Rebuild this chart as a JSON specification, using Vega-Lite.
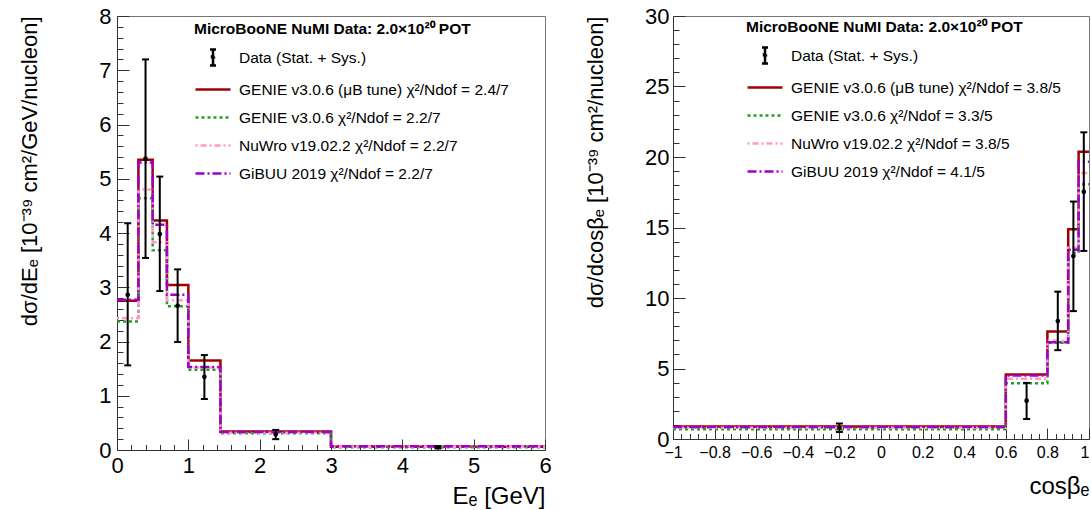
{
  "$schema": "https://vega.github.io/schema/vega-lite/v6.json",
  "background": "white",
  "padding": {"left": 18, "top": 4, "right": 0, "bottom": 0},
  "spacing": 32,
  "config": {
    "font": "Liberation Sans",
    "view": {"stroke": "#777", "strokeWidth": 1},
    "axis": {"grid": false, "domainColor": "#333", "tickColor": "#333", "labelColor": "black", "titleColor": "black", "labelFont": "Liberation Sans", "titleFont": "Liberation Sans", "titleFontWeight": "normal", "tickWidth": 1, "domainWidth": 1, "labelOverlap": false, "labelBound": false, "labelFlush": false},
    "legend": {"orient": "none", "padding": 0, "symbolType": "stroke", "symbolSize": 1225, "symbolStrokeWidth": 2.5, "rowPadding": 0, "labelOffset": 7, "labelFontSize": 15.5, "labelFont": "Liberation Sans", "labelColor": "black", "labelLimit": 0, "titleFontSize": 15.5, "titleFont": "Liberation Sans", "titleFontWeight": "bold", "titleColor": "black", "titlePadding": 1, "titleLimit": 0, "direction": "vertical"}
  },
  "datasets": {
    "histE": [
      {"model": "GENIE v3.0.6 (μB tune) χ²/Ndof = 2.4/7", "bin": 1, "lo": 0, "hi": 0.3, "v": 2.75},
      {"model": "GENIE v3.0.6 (μB tune) χ²/Ndof = 2.4/7", "bin": 2, "lo": 0.3, "hi": 0.5, "v": 5.35},
      {"model": "GENIE v3.0.6 (μB tune) χ²/Ndof = 2.4/7", "bin": 3, "lo": 0.5, "hi": 0.7, "v": 4.23},
      {"model": "GENIE v3.0.6 (μB tune) χ²/Ndof = 2.4/7", "bin": 4, "lo": 0.7, "hi": 1.0, "v": 3.04},
      {"model": "GENIE v3.0.6 (μB tune) χ²/Ndof = 2.4/7", "bin": 5, "lo": 1.0, "hi": 1.45, "v": 1.65},
      {"model": "GENIE v3.0.6 (μB tune) χ²/Ndof = 2.4/7", "bin": 6, "lo": 1.45, "hi": 3.0, "v": 0.34},
      {"model": "GENIE v3.0.6 (μB tune) χ²/Ndof = 2.4/7", "bin": 7, "lo": 3.0, "hi": 6.0, "v": 0.06},
      {"model": "GENIE v3.0.6 χ²/Ndof = 2.2/7", "bin": 1, "lo": 0, "hi": 0.3, "v": 2.37},
      {"model": "GENIE v3.0.6 χ²/Ndof = 2.2/7", "bin": 2, "lo": 0.3, "hi": 0.5, "v": 4.64},
      {"model": "GENIE v3.0.6 χ²/Ndof = 2.2/7", "bin": 3, "lo": 0.5, "hi": 0.7, "v": 3.68},
      {"model": "GENIE v3.0.6 χ²/Ndof = 2.2/7", "bin": 4, "lo": 0.7, "hi": 1.0, "v": 2.65},
      {"model": "GENIE v3.0.6 χ²/Ndof = 2.2/7", "bin": 5, "lo": 1.0, "hi": 1.45, "v": 1.48},
      {"model": "GENIE v3.0.6 χ²/Ndof = 2.2/7", "bin": 6, "lo": 1.45, "hi": 3.0, "v": 0.31},
      {"model": "GENIE v3.0.6 χ²/Ndof = 2.2/7", "bin": 7, "lo": 3.0, "hi": 6.0, "v": 0.05},
      {"model": "NuWro v19.02.2 χ²/Ndof = 2.2/7", "bin": 1, "lo": 0, "hi": 0.3, "v": 2.43},
      {"model": "NuWro v19.02.2 χ²/Ndof = 2.2/7", "bin": 2, "lo": 0.3, "hi": 0.5, "v": 4.8},
      {"model": "NuWro v19.02.2 χ²/Ndof = 2.2/7", "bin": 3, "lo": 0.5, "hi": 0.7, "v": 3.83},
      {"model": "NuWro v19.02.2 χ²/Ndof = 2.2/7", "bin": 4, "lo": 0.7, "hi": 1.0, "v": 2.76},
      {"model": "NuWro v19.02.2 χ²/Ndof = 2.2/7", "bin": 5, "lo": 1.0, "hi": 1.45, "v": 1.52},
      {"model": "NuWro v19.02.2 χ²/Ndof = 2.2/7", "bin": 6, "lo": 1.45, "hi": 3.0, "v": 0.32},
      {"model": "NuWro v19.02.2 χ²/Ndof = 2.2/7", "bin": 7, "lo": 3.0, "hi": 6.0, "v": 0.06},
      {"model": "GiBUU 2019 χ²/Ndof = 2.2/7", "bin": 1, "lo": 0, "hi": 0.3, "v": 2.77},
      {"model": "GiBUU 2019 χ²/Ndof = 2.2/7", "bin": 2, "lo": 0.3, "hi": 0.5, "v": 5.3},
      {"model": "GiBUU 2019 χ²/Ndof = 2.2/7", "bin": 3, "lo": 0.5, "hi": 0.7, "v": 4.15},
      {"model": "GiBUU 2019 χ²/Ndof = 2.2/7", "bin": 4, "lo": 0.7, "hi": 1.0, "v": 2.86},
      {"model": "GiBUU 2019 χ²/Ndof = 2.2/7", "bin": 5, "lo": 1.0, "hi": 1.45, "v": 1.53},
      {"model": "GiBUU 2019 χ²/Ndof = 2.2/7", "bin": 6, "lo": 1.45, "hi": 3.0, "v": 0.33},
      {"model": "GiBUU 2019 χ²/Ndof = 2.2/7", "bin": 7, "lo": 3.0, "hi": 6.0, "v": 0.07}
    ],
    "dataE": [
      {"model": "Data (Stat. + Sys.)", "x": 0.15, "y": 2.86, "lo": 1.56, "hi": 4.18},
      {"model": "Data (Stat. + Sys.)", "x": 0.4, "y": 5.37, "lo": 3.54, "hi": 7.2},
      {"model": "Data (Stat. + Sys.)", "x": 0.6, "y": 3.98, "lo": 2.93, "hi": 5.04},
      {"model": "Data (Stat. + Sys.)", "x": 0.85, "y": 2.66, "lo": 1.99, "hi": 3.33},
      {"model": "Data (Stat. + Sys.)", "x": 1.225, "y": 1.35, "lo": 0.94, "hi": 1.75},
      {"model": "Data (Stat. + Sys.)", "x": 2.225, "y": 0.29, "lo": 0.2, "hi": 0.37},
      {"model": "Data (Stat. + Sys.)", "x": 4.5, "y": 0.05, "lo": 0.03, "hi": 0.07}
    ],
    "histC": [
      {"model": "GENIE v3.0.6 (μB tune) χ²/Ndof = 3.8/5", "bin": 1, "lo": -1, "hi": 0.6, "v": 0.88},
      {"model": "GENIE v3.0.6 (μB tune) χ²/Ndof = 3.8/5", "bin": 2, "lo": 0.6, "hi": 0.8, "v": 4.58},
      {"model": "GENIE v3.0.6 (μB tune) χ²/Ndof = 3.8/5", "bin": 3, "lo": 0.8, "hi": 0.9, "v": 7.62},
      {"model": "GENIE v3.0.6 (μB tune) χ²/Ndof = 3.8/5", "bin": 4, "lo": 0.9, "hi": 0.95, "v": 14.88},
      {"model": "GENIE v3.0.6 (μB tune) χ²/Ndof = 3.8/5", "bin": 5, "lo": 0.95, "hi": 1.0, "v": 20.37},
      {"model": "GENIE v3.0.6 χ²/Ndof = 3.3/5", "bin": 1, "lo": -1, "hi": 0.6, "v": 0.7},
      {"model": "GENIE v3.0.6 χ²/Ndof = 3.3/5", "bin": 2, "lo": 0.6, "hi": 0.8, "v": 3.96},
      {"model": "GENIE v3.0.6 χ²/Ndof = 3.3/5", "bin": 3, "lo": 0.8, "hi": 0.9, "v": 6.82},
      {"model": "GENIE v3.0.6 χ²/Ndof = 3.3/5", "bin": 4, "lo": 0.9, "hi": 0.95, "v": 13.2},
      {"model": "GENIE v3.0.6 χ²/Ndof = 3.3/5", "bin": 5, "lo": 0.95, "hi": 1.0, "v": 18.07},
      {"model": "NuWro v19.02.2 χ²/Ndof = 3.8/5", "bin": 1, "lo": -1, "hi": 0.6, "v": 0.8},
      {"model": "NuWro v19.02.2 χ²/Ndof = 3.8/5", "bin": 2, "lo": 0.6, "hi": 0.8, "v": 4.27},
      {"model": "NuWro v19.02.2 χ²/Ndof = 3.8/5", "bin": 3, "lo": 0.8, "hi": 0.9, "v": 6.99},
      {"model": "NuWro v19.02.2 χ²/Ndof = 3.8/5", "bin": 4, "lo": 0.9, "hi": 0.95, "v": 13.57},
      {"model": "NuWro v19.02.2 χ²/Ndof = 3.8/5", "bin": 5, "lo": 0.95, "hi": 1.0, "v": 18.86},
      {"model": "GiBUU 2019 χ²/Ndof = 4.1/5", "bin": 1, "lo": -1, "hi": 0.6, "v": 0.85},
      {"model": "GiBUU 2019 χ²/Ndof = 4.1/5", "bin": 2, "lo": 0.6, "hi": 0.8, "v": 4.5},
      {"model": "GiBUU 2019 χ²/Ndof = 4.1/5", "bin": 3, "lo": 0.8, "hi": 0.9, "v": 6.87},
      {"model": "GiBUU 2019 χ²/Ndof = 4.1/5", "bin": 4, "lo": 0.9, "hi": 0.95, "v": 13.42},
      {"model": "GiBUU 2019 χ²/Ndof = 4.1/5", "bin": 5, "lo": 0.95, "hi": 1.0, "v": 19.66}
    ],
    "dataC": [
      {"model": "Data (Stat. + Sys.)", "x": -0.2, "y": 0.8, "lo": 0.5, "hi": 1.1},
      {"model": "Data (Stat. + Sys.)", "x": 0.7, "y": 2.72, "lo": 1.42, "hi": 3.98},
      {"model": "Data (Stat. + Sys.)", "x": 0.85, "y": 8.36, "lo": 6.3, "hi": 10.45},
      {"model": "Data (Stat. + Sys.)", "x": 0.925, "y": 12.98, "lo": 9.07, "hi": 16.84},
      {"model": "Data (Stat. + Sys.)", "x": 0.975, "y": 17.53, "lo": 13.34, "hi": 21.75}
    ]
  },
  "hconcat": [
    {
      "width": 428,
      "height": 434,
      "layer": [
        {
          "data": {"name": "histE"},
          "transform": [{"fold": ["lo", "hi"], "as": ["side", "x"]}],
          "mark": {"type": "line", "strokeWidth": 2.5, "strokeJoin": "miter", "strokeCap": "butt"},
          "encoding": {
            "x": {"field": "x", "type": "quantitative", "title": "Eₑ [GeV]", "scale": {"domain": [0, 6], "nice": false, "zero": false},
              "axis": {"values": [0,0.2,0.4,0.6,0.8,1,1.2,1.4,1.6,1.8,2,2.2,2.4,2.6,2.8,3,3.2,3.4,3.6,3.8,4,4.2,4.4,4.6,4.8,5,5.2,5.4,5.6,5.8,6],
                "tickCount": 1000,
                "labelExpr": "abs(datum.value - round(datum.value)) < 0.001 ? format(datum.value, '~g') : ''",
                "tickSize": {"condition": {"test": "abs(datum.value - round(datum.value)) < 0.001", "value": -11}, "value": -5.5},
                "labelOverlap": false, "labelPadding": 16, "labelFontSize": 22, "titleFontSize": 24, "titleAnchor": "end", "titlePadding": 3}},
            "y": {"field": "v", "type": "quantitative", "title": "dσ/dEₑ [10⁻³⁹ cm²/GeV/nucleon]", "scale": {"domain": [0, 8], "nice": false},
              "axis": {"values": [0,0.2,0.4,0.6,0.8,1,1.2,1.4,1.6,1.8,2,2.2,2.4,2.6,2.8,3,3.2,3.4,3.6,3.8,4,4.2,4.4,4.6,4.8,5,5.2,5.4,5.6,5.8,6,6.2,6.4,6.6,6.8,7,7.2,7.4,7.6,7.8,8],
                "tickCount": 1000,
                "labelExpr": "abs(datum.value - round(datum.value)) < 0.001 ? format(datum.value, '~g') : ''",
                "tickSize": {"condition": {"test": "abs(datum.value - round(datum.value)) < 0.001", "value": -12}, "value": -6},
                "labelOverlap": false, "labelPadding": 18, "labelFontSize": 22, "titleFontSize": 22, "titleAnchor": "end", "titlePadding": 57}},
            "color": {"field": "model", "type": "nominal",
              "scale": {"domain": ["Data (Stat. + Sys.)", "GENIE v3.0.6 (μB tune) χ²/Ndof = 2.4/7", "GENIE v3.0.6 χ²/Ndof = 2.2/7", "NuWro v19.02.2 χ²/Ndof = 2.2/7", "GiBUU 2019 χ²/Ndof = 2.2/7"],
                "range": ["#000000", "#a00000", "#22a022", "#ff99cc", "#a000cc"]},
              "legend": {"title": "MicroBooNE NuMI Data: 2.0×10²⁰ POT", "legendX": 77, "legendY": 6,
                "encode": {"symbols": {"update": {
                  "shape": {"signal": "datum.value === 'Data (Stat. + Sys.)' ? 'M0,-0.8V0.8M-0.3,-0.8H0.3M-0.3,0.8H0.3M-0.1,-0.1H0.1V0.1H-0.1Z' : 'stroke'"},
                  "size": {"signal": "datum.value === 'Data (Stat. + Sys.)' ? 400 : 1225"}}}}}},
            "strokeDash": {"field": "model", "type": "nominal",
              "scale": {"domain": ["Data (Stat. + Sys.)", "GENIE v3.0.6 (μB tune) χ²/Ndof = 2.4/7", "GENIE v3.0.6 χ²/Ndof = 2.2/7", "NuWro v19.02.2 χ²/Ndof = 2.2/7", "GiBUU 2019 χ²/Ndof = 2.2/7"],
                "range": [[1, 0], [1, 0], [3, 3], [2, 3, 6, 3], [9, 3, 2, 3]]},
              "legend": {"title": "MicroBooNE NuMI Data: 2.0×10²⁰ POT", "legendX": 77, "legendY": 6,
                "encode": {"symbols": {"update": {
                  "shape": {"signal": "datum.value === 'Data (Stat. + Sys.)' ? 'M0,-0.8V0.8M-0.3,-0.8H0.3M-0.3,0.8H0.3M-0.1,-0.1H0.1V0.1H-0.1Z' : 'stroke'"},
                  "size": {"signal": "datum.value === 'Data (Stat. + Sys.)' ? 400 : 1225"}}}}}},
            "order": [{"field": "x", "type": "quantitative"}, {"field": "bin", "type": "quantitative"}]
          }
        },
        {
          "data": {"name": "dataE"},
          "mark": {"type": "rule", "strokeWidth": 2},
          "encoding": {
            "x": {"field": "x", "type": "quantitative", "title": "Eₑ [GeV]", "scale": {"domain": [0, 6], "nice": false, "zero": false}},
            "y": {"field": "lo", "type": "quantitative", "title": "dσ/dEₑ [10⁻³⁹ cm²/GeV/nucleon]", "scale": {"domain": [0, 8], "nice": false}},
            "y2": {"field": "hi"},
            "color": {"field": "model", "type": "nominal"},
            "strokeDash": {"field": "model", "type": "nominal"}
          }
        },
        {
          "data": {"name": "dataE"},
          "mark": {"type": "tick", "orient": "horizontal", "size": 7, "thickness": 2, "color": "black", "opacity": 1},
          "encoding": {
            "x": {"field": "x", "type": "quantitative", "title": "Eₑ [GeV]", "scale": {"domain": [0, 6], "nice": false, "zero": false}},
            "y": {"field": "lo", "type": "quantitative", "title": "dσ/dEₑ [10⁻³⁹ cm²/GeV/nucleon]", "scale": {"domain": [0, 8], "nice": false}}
          }
        },
        {
          "data": {"name": "dataE"},
          "mark": {"type": "tick", "orient": "horizontal", "size": 7, "thickness": 2, "color": "black", "opacity": 1},
          "encoding": {
            "x": {"field": "x", "type": "quantitative", "title": "Eₑ [GeV]", "scale": {"domain": [0, 6], "nice": false, "zero": false}},
            "y": {"field": "hi", "type": "quantitative", "title": "dσ/dEₑ [10⁻³⁹ cm²/GeV/nucleon]", "scale": {"domain": [0, 8], "nice": false}}
          }
        },
        {
          "data": {"name": "dataE"},
          "mark": {"type": "point", "filled": true, "size": 22, "color": "black", "opacity": 1},
          "encoding": {
            "x": {"field": "x", "type": "quantitative", "title": "Eₑ [GeV]", "scale": {"domain": [0, 6], "nice": false, "zero": false}},
            "y": {"field": "y", "type": "quantitative", "title": "dσ/dEₑ [10⁻³⁹ cm²/GeV/nucleon]", "scale": {"domain": [0, 8], "nice": false}}
          }
        }
      ]
    },
    {
      "width": 416,
      "height": 423,
      "layer": [
        {
          "data": {"name": "histC"},
          "transform": [{"fold": ["lo", "hi"], "as": ["side", "x"]}],
          "mark": {"type": "line", "strokeWidth": 2.5, "strokeJoin": "miter", "strokeCap": "butt"},
          "encoding": {
            "x": {"field": "x", "type": "quantitative", "title": "cosβₑ", "scale": {"domain": [-1, 1], "nice": false, "zero": false},
              "axis": {"values": [-1,-0.96,-0.92,-0.88,-0.84,-0.8,-0.76,-0.72,-0.68,-0.64,-0.6,-0.56,-0.52,-0.48,-0.44,-0.4,-0.36,-0.32,-0.28,-0.24,-0.2,-0.16,-0.12,-0.08,-0.04,0,0.04,0.08,0.12,0.16,0.2,0.24,0.28,0.32,0.36,0.4,0.44,0.48,0.52,0.56,0.6,0.64,0.68,0.72,0.76,0.8,0.84,0.88,0.92,0.96,1],
                "tickCount": 1000,
                "labelExpr": "abs(datum.value*5 - round(datum.value*5)) < 0.001 ? format(datum.value, '~g') : ''",
                "tickSize": {"condition": {"test": "abs(datum.value*5 - round(datum.value*5)) < 0.001", "value": -11}, "value": -5.5},
                "labelAlign": {"condition": {"test": "datum.value > 0.99", "value": "right"}, "value": "center"},
                "labelOverlap": false, "labelPadding": 16, "labelFontSize": 16, "titleFontSize": 24, "titleAnchor": "end", "titlePadding": 9}},
            "y": {"field": "v", "type": "quantitative", "title": "dσ/dcosβₑ [10⁻³⁹ cm²/nucleon]", "scale": {"domain": [0, 30], "nice": false},
              "axis": {"values": [0,1,2,3,4,5,6,7,8,9,10,11,12,13,14,15,16,17,18,19,20,21,22,23,24,25,26,27,28,29,30],
                "tickCount": 1000,
                "labelExpr": "datum.value % 5 === 0 ? format(datum.value, 'd') : ''",
                "tickSize": {"condition": {"test": "datum.value % 5 === 0", "value": -12}, "value": -6},
                "labelOverlap": false, "labelPadding": 16, "labelFontSize": 22, "titleFontSize": 22, "titleAnchor": "end", "titlePadding": 37}},
            "color": {"field": "model", "type": "nominal",
              "scale": {"domain": ["Data (Stat. + Sys.)", "GENIE v3.0.6 (μB tune) χ²/Ndof = 3.8/5", "GENIE v3.0.6 χ²/Ndof = 3.3/5", "NuWro v19.02.2 χ²/Ndof = 3.8/5", "GiBUU 2019 χ²/Ndof = 4.1/5"],
                "range": ["#000000", "#a00000", "#22a022", "#ff99cc", "#a000cc"]},
              "legend": {"title": "MicroBooNE NuMI Data: 2.0×10²⁰ POT", "legendX": 73, "legendY": 4,
                "encode": {"symbols": {"update": {
                  "shape": {"signal": "datum.value === 'Data (Stat. + Sys.)' ? 'M0,-0.8V0.8M-0.3,-0.8H0.3M-0.3,0.8H0.3M-0.1,-0.1H0.1V0.1H-0.1Z' : 'stroke'"},
                  "size": {"signal": "datum.value === 'Data (Stat. + Sys.)' ? 400 : 1225"}}}}}},
            "strokeDash": {"field": "model", "type": "nominal",
              "scale": {"domain": ["Data (Stat. + Sys.)", "GENIE v3.0.6 (μB tune) χ²/Ndof = 3.8/5", "GENIE v3.0.6 χ²/Ndof = 3.3/5", "NuWro v19.02.2 χ²/Ndof = 3.8/5", "GiBUU 2019 χ²/Ndof = 4.1/5"],
                "range": [[1, 0], [1, 0], [3, 3], [2, 3, 6, 3], [9, 3, 2, 3]]},
              "legend": {"title": "MicroBooNE NuMI Data: 2.0×10²⁰ POT", "legendX": 73, "legendY": 4,
                "encode": {"symbols": {"update": {
                  "shape": {"signal": "datum.value === 'Data (Stat. + Sys.)' ? 'M0,-0.8V0.8M-0.3,-0.8H0.3M-0.3,0.8H0.3M-0.1,-0.1H0.1V0.1H-0.1Z' : 'stroke'"},
                  "size": {"signal": "datum.value === 'Data (Stat. + Sys.)' ? 400 : 1225"}}}}}},
            "order": [{"field": "x", "type": "quantitative"}, {"field": "bin", "type": "quantitative"}]
          }
        },
        {
          "data": {"name": "dataC"},
          "mark": {"type": "rule", "strokeWidth": 2},
          "encoding": {
            "x": {"field": "x", "type": "quantitative", "title": "cosβₑ", "scale": {"domain": [-1, 1], "nice": false, "zero": false}},
            "y": {"field": "lo", "type": "quantitative", "title": "dσ/dcosβₑ [10⁻³⁹ cm²/nucleon]", "scale": {"domain": [0, 30], "nice": false}},
            "y2": {"field": "hi"},
            "color": {"field": "model", "type": "nominal"},
            "strokeDash": {"field": "model", "type": "nominal"}
          }
        },
        {
          "data": {"name": "dataC"},
          "mark": {"type": "tick", "orient": "horizontal", "size": 7, "thickness": 2, "color": "black", "opacity": 1},
          "encoding": {
            "x": {"field": "x", "type": "quantitative", "title": "cosβₑ", "scale": {"domain": [-1, 1], "nice": false, "zero": false}},
            "y": {"field": "lo", "type": "quantitative", "title": "dσ/dcosβₑ [10⁻³⁹ cm²/nucleon]", "scale": {"domain": [0, 30], "nice": false}}
          }
        },
        {
          "data": {"name": "dataC"},
          "mark": {"type": "tick", "orient": "horizontal", "size": 7, "thickness": 2, "color": "black", "opacity": 1},
          "encoding": {
            "x": {"field": "x", "type": "quantitative", "title": "cosβₑ", "scale": {"domain": [-1, 1], "nice": false, "zero": false}},
            "y": {"field": "hi", "type": "quantitative", "title": "dσ/dcosβₑ [10⁻³⁹ cm²/nucleon]", "scale": {"domain": [0, 30], "nice": false}}
          }
        },
        {
          "data": {"name": "dataC"},
          "mark": {"type": "point", "filled": true, "size": 22, "color": "black", "opacity": 1},
          "encoding": {
            "x": {"field": "x", "type": "quantitative", "title": "cosβₑ", "scale": {"domain": [-1, 1], "nice": false, "zero": false}},
            "y": {"field": "y", "type": "quantitative", "title": "dσ/dcosβₑ [10⁻³⁹ cm²/nucleon]", "scale": {"domain": [0, 30], "nice": false}}
          }
        }
      ]
    }
  ],
  "resolve": {
    "scale": {"color": "independent", "strokeDash": "independent"},
    "legend": {"color": "independent", "strokeDash": "independent"}
  }
}
